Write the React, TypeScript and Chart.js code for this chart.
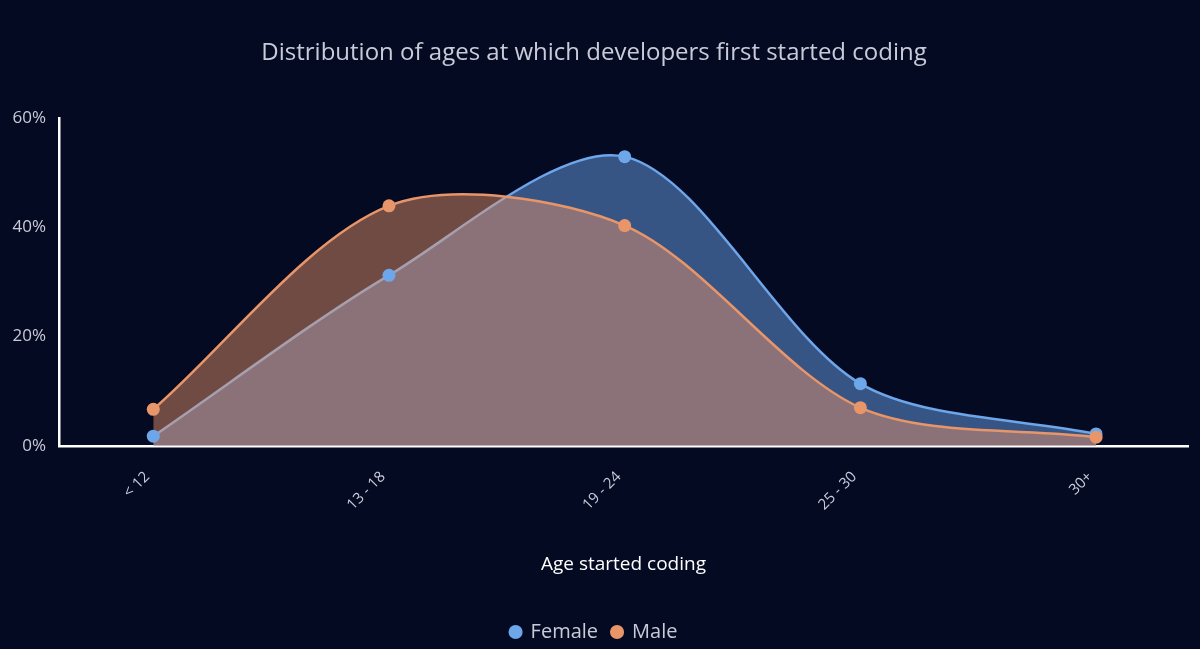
import React, { useEffect, useRef } from 'react';
import Chart from 'chart.js/auto';

const ageGroups = ['< 12', '13 - 18', '19 - 24', '25 - 30', '30+'];
const femaleShare = [1.8, 31.2, 52.9, 11.4, 2.2];
const maleShare = [6.7, 43.9, 40.3, 7.0, 1.6];
const yTicks = [0, 20, 40, 60];

const FEMALE = '#6ea6ea';
const MALE = '#e8956a';
const BG = '#050a23';
const TEXT = '#c9cbd8';
const FONT = '"Open Sans", "Noto Sans", sans-serif';

const toXY = (values: number[]) => values.map((y, x) => ({ x, y }));

export default function App() {
  const canvasRef = useRef<HTMLCanvasElement | null>(null);

  useEffect(() => {
    if (!canvasRef.current) return;

    // datasets are drawn from the last index to the first:
    // female area, male area, then female points and male points on top
    const area = (label: string, values: number[], color: string, fill: string) => ({
      label,
      data: toXY(values),
      borderColor: color,
      backgroundColor: fill,
      pointRadius: 0,
      borderWidth: 2.5,
      tension: 0.3,
      fill: 'origin',
    });
    const dots = (label: string, values: number[], color: string) => ({
      label,
      data: toXY(values),
      showLine: false,
      fill: false,
      borderColor: color,
      backgroundColor: color,
      pointBackgroundColor: color,
      pointBorderColor: color,
      pointRadius: 6.5,
      pointBorderWidth: 0,
    });

    const chart = new Chart(canvasRef.current, {
      type: 'line',
      data: {
        datasets: [
          dots('Male points', maleShare, MALE),
          dots('Female points', femaleShare, FEMALE),
          area('Male', maleShare, MALE, 'rgba(232, 149, 106, 0.47)'),
          area('Female', femaleShare, FEMALE, 'rgba(106, 160, 230, 0.5)'),
        ],
      },
      options: {
        responsive: true,
        maintainAspectRatio: false,
        animation: false,
        layout: { padding: { left: 0, right: 12, top: 0, bottom: -3 } },
        scales: {
          x: {
            type: 'linear',
            min: -0.4,
            max: 4.39,
            afterBuildTicks: (scale: any) => {
              scale.ticks = ageGroups.map((_, i) => ({ value: i }));
            },
            afterFit: (scale: any) => {
              scale.height = 162;
            },
            grid: { display: false, drawTicks: false },
            border: { display: true, color: '#ffffff', width: 2.5 },
            ticks: {
              color: TEXT,
              font: { family: FONT, size: 15 },
              minRotation: 45,
              maxRotation: 45,
              padding: 22,
              labelOffset: -6,
              callback: (v: any) => ageGroups[v] ?? '',
            },
            title: {
              display: true,
              text: 'Age started coding',
              color: '#ffffff',
              font: { family: FONT, size: 19 },
              padding: { top: 0, bottom: 32 },
            },
          },
          y: {
            min: 0,
            max: 60,
            afterBuildTicks: (scale: any) => {
              scale.ticks = yTicks.map((v) => ({ value: v }));
            },
            afterFit: (scale: any) => {
              scale.width = 59;
            },
            grid: { display: false, drawTicks: false },
            border: { display: true, color: '#ffffff', width: 2.5 },
            ticks: {
              color: TEXT,
              font: { family: FONT, size: 17 },
              padding: 13,
              callback: (v: any) => v + '%',
            },
          },
        },
        plugins: {
          title: {
            display: true,
            text: 'Distribution of ages at which developers first started coding',
            color: TEXT,
            font: { family: FONT, size: 24, weight: 'normal' },
            padding: { top: 39, bottom: 50 },
          },
          legend: {
            position: 'bottom',
            labels: {
              color: TEXT,
              font: { family: FONT, size: 20 },
              usePointStyle: true,
              boxWidth: 10,
              boxHeight: 10,
              padding: 14,
              generateLabels: (c: any) =>
                [3, 2].map((i) => {
                  const ds = c.data.datasets[i];
                  return {
                    text: ds.label,
                    fillStyle: ds.borderColor,
                    strokeStyle: ds.borderColor,
                    lineWidth: 0,
                    pointStyle: 'circle',
                    hidden: !c.isDatasetVisible(i),
                    datasetIndex: i,
                    fontColor: TEXT,
                  };
                }),
            },
          },
          tooltip: { enabled: false },
        },
      },
    });

    return () => {
      chart.destroy();
    };
  }, []);

  return (
    <div style={{ position: 'fixed', left: 0, top: 0, width: 1200, height: 649, background: BG }}>
      <canvas ref={canvasRef} />
    </div>
  );
}
